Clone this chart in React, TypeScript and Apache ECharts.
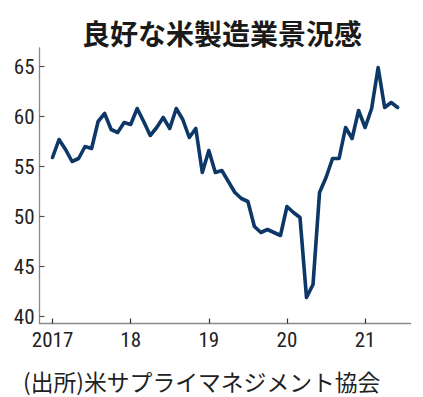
import React, { useEffect, useRef } from "react";
import * as echarts from "echarts";

// Monthly ISM manufacturing PMI
const startYear = 2017;
const pmi2017 = [55.9, 57.7, 56.7, 55.5, 55.8, 57.0, 56.8, 59.5, 60.3, 58.7, 58.4, 59.4];
const pmi2018 = [59.2, 60.8, 59.5, 58.1, 58.9, 59.9, 58.8, 60.8, 59.7, 57.9, 58.8, 54.4];
const pmi2019 = [56.6, 54.4, 54.6, 53.5, 52.4, 51.8, 51.5, 49.0, 48.4, 48.7, 48.4, 48.1];
const pmi2020 = [51.0, 50.4, 49.9, 41.9, 43.2, 52.4, 53.9, 55.8, 55.8, 58.9, 57.8, 60.6];
const pmi2021 = [58.9, 60.8, 64.9, 60.9, 61.4, 60.9];
const yearTickLabels = ["2017", "18", "19", "20", "21"];
const yTicks = [40, 45, 50, 55, 60, 65];
const padBefore = 2; // empty months before Jan 2017 on the axis
const padAfter = 2; // empty months after the last value

const titleText = "良好な米製造業景況感";
const sourceText = "(出所)米サプライマネジメント協会";

const values = [...pmi2017, ...pmi2018, ...pmi2019, ...pmi2020, ...pmi2021];

// categories: months from (Jan 2017 - padBefore) to (last + padAfter)
const categories: string[] = [];
for (let i = -padBefore; i < values.length + padAfter; i++) {
  const y = startYear + Math.floor(i / 12);
  const m = ((i % 12) + 12) % 12 + 1;
  categories.push(`${y}-${String(m).padStart(2, "0")}`);
}
const seriesData: (number | null)[] = categories.map((_, k) => {
  const i = k - padBefore;
  return i >= 0 && i < values.length ? values[i] : null;
});
const isJan = (v: string) => v.endsWith("-01");
const labelFor = (v: string) => {
  const y = parseInt(v.slice(0, 4), 10);
  return yearTickLabels[y - startYear] ?? "";
};

const numFont = "'Liberation Sans Narrow', 'Roboto Condensed', 'Arial Narrow', Roboto, sans-serif";
const cjkFont = "'Noto Sans CJK JP', 'Noto Sans', sans-serif";

export default function App() {
  const ref = useRef<HTMLDivElement>(null);
  useEffect(() => {
    if (!ref.current) return;
    const chart = echarts.init(ref.current, null, { renderer: "svg" });
    chart.setOption({
      animation: false,
      backgroundColor: "#ffffff",
      title: [
        {
          text: titleText,
          left: 82,
          top: 19,
          padding: 0,
          textStyle: { fontFamily: cjkFont, fontSize: 28, fontWeight: "bold", color: "#1a1a1a" },
        },
        {
          text: sourceText,
          left: 23,
          top: 370,
          padding: 0,
          textStyle: { fontFamily: cjkFont, fontSize: 22.8, fontWeight: "normal", color: "#222" },
        },
      ],
      grid: [
        { left: 39.5, right: 12.3, top: 48, bottom: 73.5, containLabel: false },
        { left: 39.5, right: 12.3, top: 66.5, bottom: 80.5, containLabel: false },
      ],
      xAxis: [
        {
          type: "category",
          gridIndex: 0,
          data: categories,
          boundaryGap: false,
          axisLine: { lineStyle: { color: "#8a8a8a", width: 1.3 } },
          axisTick: {
            inside: true,
            length: 5,
            interval: (_i: number, v: string) => isJan(v),
            lineStyle: { color: "#333", width: 1.2 },
          },
          axisLabel: {
            interval: (_i: number, v: string) => isJan(v),
            formatter: (v: string) => labelFor(v),
            fontFamily: numFont,
            fontSize: 21,
            color: "#222",
            margin: 6,
          },
          splitLine: { show: false },
        },
        {
          type: "category",
          gridIndex: 1,
          data: categories,
          show: false,
        },
      ],
      yAxis: [
        {
          type: "value",
          gridIndex: 0,
          min: 39.3,
          max: 66.85,
          axisLine: { show: true, lineStyle: { color: "#8a8a8a", width: 1.3 } },
          axisTick: { show: false },
          axisLabel: { show: false },
          splitLine: { show: false },
        },
        {
          type: "value",
          gridIndex: 1,
          min: yTicks[0],
          max: yTicks[yTicks.length - 1],
          interval: yTicks[1] - yTicks[0],
          axisLine: { show: false },
          axisTick: { show: true, inside: true, length: 5, lineStyle: { color: "#555", width: 1.2 } },
          axisLabel: { fontFamily: numFont, fontSize: 21, color: "#222", margin: 5 },
          splitLine: { show: false },
        },
      ],
      series: [
        {
          type: "line",
          xAxisIndex: 0,
          yAxisIndex: 0,
          data: seriesData,
          symbol: "none",
          connectNulls: false,
          lineStyle: { color: "#0d3767", width: 3.6, join: "round", cap: "round" },
        },
      ],
    });
    return () => chart.dispose();
  }, []);
  return (
    <div
      ref={ref}
      style={{ position: "fixed", left: 0, top: 0, width: 423, height: 397, background: "#fff" }}
    />
  );
}
